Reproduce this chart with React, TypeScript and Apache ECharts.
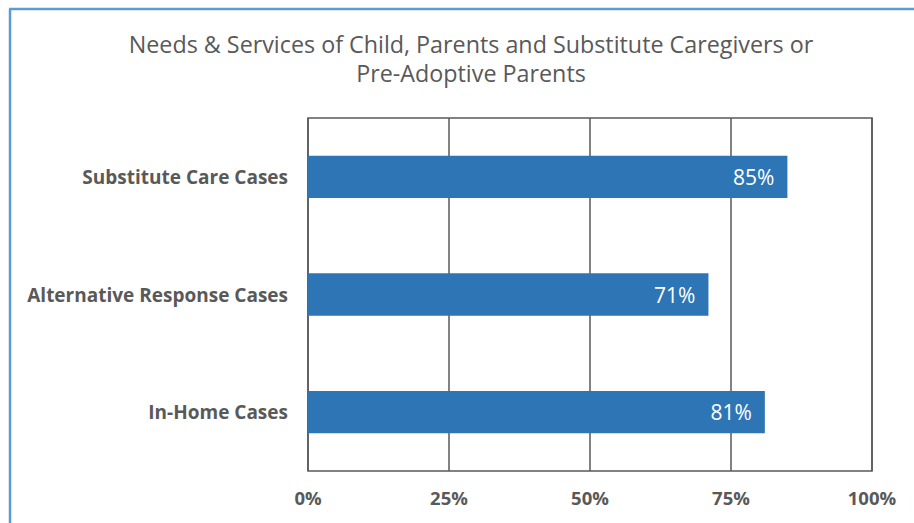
import React, { useEffect, useRef } from "react";
import * as echarts from "echarts";

const categories = ["In-Home Cases", "Alternative Response Cases", "Substitute Care Cases"];
const values = [81, 71, 85];
const xTicks = [0, 25, 50, 75, 100];
const titleLines = ["Needs & Services of Child, Parents and Substitute Caregivers or", "Pre-Adoptive Parents"];

const FONT = "Open Sans";

export default function App() {
  const ref = useRef<HTMLDivElement>(null);
  useEffect(() => {
    const chart = echarts.init(ref.current!, null, { renderer: "svg" });
    chart.setOption({
      animation: false,
      backgroundColor: "#ffffff",
      title: {
        text: titleLines.join("\n"),
        left: 466,
        textAlign: "center",
        top: 24,
        textStyle: { fontFamily: FONT, fontSize: 23.3, fontWeight: "normal", color: "#595959", lineHeight: 29.5 },
      },
      grid: { left: 308, right: 42, top: 118, bottom: 52, show: true, borderColor: "#595959", borderWidth: 1.5, backgroundColor: "transparent" },
      xAxis: {
        type: "value",
        min: 0,
        max: 100,
        interval: 25,
        axisLine: { show: false },
        axisTick: { show: false },
        splitLine: { show: true, lineStyle: { color: "#595959", width: 1.5 } },
        axisLabel: {
          formatter: (v: number) => (xTicks.includes(v) ? v + "%" : ""),
          fontFamily: FONT,
          fontSize: 18.5,
          fontWeight: "bold",
          color: "#595959",
          margin: 17,
        },
      },
      yAxis: {
        type: "category",
        data: categories,
        axisLine: { show: false },
        axisTick: { show: false },
        axisLabel: { fontFamily: FONT, fontSize: 19, fontWeight: "bold", color: "#595959", margin: 20 },
      },
      series: [
        {
          type: "bar",
          data: values,
          barWidth: "36%",
          itemStyle: { color: "#2E75B6" },
          label: {
            show: true,
            position: "insideRight",
            distance: 13,
            formatter: (p: any) => p.value + "%",
            color: "#ffffff",
            fontFamily: FONT,
            fontSize: 21,
          },
        },
      ],
      graphic: [
        { type: "line", shape: { x1: 10, y1: 9, x2: 10, y2: 523 }, style: { stroke: "#5B9BD5", lineWidth: 2.5 } },
        { type: "line", shape: { x1: 9, y1: 9, x2: 914, y2: 9 }, style: { stroke: "#5B9BD5", lineWidth: 2.5 } },
      ],
    });
    return () => chart.dispose();
  }, []);
  return <div ref={ref} style={{ position: "absolute", left: 0, top: 0, width: 914, height: 523 }} />;
}
